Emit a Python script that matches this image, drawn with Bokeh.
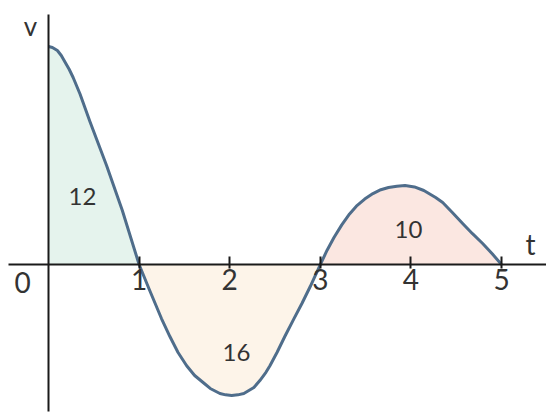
import numpy as np
from bokeh.plotting import figure
from bokeh.models import Range1d, FixedTicker, Label
from bokeh.embed import file_html
from bokeh.resources import INLINE

# Curve (t, v)
t_vals = [0.0, 0.043, 0.098, 0.141, 0.185, 0.228, 0.272, 0.348, 0.457, 0.641, 0.815, 1.0,
          1.108, 1.247, 1.340, 1.430, 1.525, 1.613, 1.720, 1.785, 1.892, 1.955, 2.022,
          2.090, 2.156, 2.267, 2.333, 2.400, 2.444, 2.522, 2.611, 2.711, 2.800, 2.889, 3.0,
          3.075, 3.151, 3.237, 3.323, 3.398, 3.490, 3.581, 3.668, 3.753, 3.845, 3.935,
          4.039, 4.143, 4.273, 4.351, 4.460, 4.571, 4.680, 4.792, 4.900, 5.0]
v_vals = [19.82, 19.73, 19.45, 19.0, 18.36, 17.75, 17.0, 15.5, 13.0, 9.0, 4.91, 0.0,
          -2.18, -4.91, -6.55, -8.0, -9.2, -10.09, -10.82, -11.27, -11.73, -11.85, -11.91,
          -11.85, -11.73, -11.18, -10.55, -9.8, -9.2, -8.0, -6.5, -4.9, -3.5, -2.0, 0.0,
          1.3, 2.45, 3.6, 4.6, 5.3, 5.95, 6.45, 6.8, 7.0, 7.12, 7.18,
          7.05, 6.73, 6.09, 5.64, 4.7, 3.73, 2.8, 1.91, 0.95, 0.0]

segment_bounds = [0, 1, 3, 5]
segment_colors = ["#e5f3ed", "#fdf4e9", "#fbe7e1"]
area_values = [12, 16, 10]
area_label_pos = [(0.375, 6.2), (2.075, -8.0), (3.974, 3.2)]

x_ticks = [1, 2, 3, 4, 5]

FONT = "Lato"
TXT = "#333333"

p = figure(width=546, height=414,
           x_range=Range1d(-0.5298, 5.4967), y_range=Range1d(-13.636, 24.0),
           output_backend="svg", toolbar_location=None, min_border=0)
p.grid.visible = False
p.outline_line_color = None
p.background_fill_color = "white"

t_arr = np.array(t_vals)
v_arr = np.array(v_vals)
for i in range(3):
    a, b = segment_bounds[i], segment_bounds[i + 1]
    m = (t_arr >= a) & (t_arr <= b)
    p.varea(x=t_arr[m], y1=np.zeros(m.sum()), y2=v_arr[m],
            fill_color=segment_colors[i])

p.line(t_vals, v_vals, line_width=3, line_color="#4f6d8b", line_join="round")

# axes crossing at origin
p.xaxis.fixed_location = 0
p.yaxis.fixed_location = 0
p.xaxis.ticker = FixedTicker(ticks=x_ticks)
p.yaxis.ticker = FixedTicker(ticks=[])
p.xaxis.bounds = (-0.4415, 5.4967)
p.yaxis.bounds = (-13.4, 22.73)
for ax in (p.xaxis[0], p.yaxis[0]):
    ax.axis_line_width = 2
    ax.axis_line_color = "#1a1a1a"
    ax.major_tick_line_color = "#1a1a1a"
    ax.major_tick_line_width = 2
    ax.minor_tick_line_color = None
    ax.major_label_text_font = FONT
    ax.major_label_text_color = TXT
    ax.major_label_text_font_size = "28px"
p.xaxis.major_tick_in = 8
p.xaxis.major_tick_out = 4
p.xaxis.major_label_standoff = 0
p.yaxis.major_label_text_font_size = "0px"

for val, (tx, ty) in zip(area_values, area_label_pos):
    p.add_layout(Label(x=tx, y=ty, text=str(val), text_align="center",
                       text_baseline="middle", text_font=FONT,
                       text_font_size="24px", text_color=TXT))

p.add_layout(Label(x=-0.287, y=-1.64, text="0", text_align="center",
                   text_baseline="middle", text_font=FONT,
                   text_font_size="28px", text_color=TXT))
p.add_layout(Label(x=-0.199, y=21.7, text="v", text_align="center",
                   text_baseline="middle", text_font=FONT,
                   text_font_size="26px", text_color=TXT))
p.add_layout(Label(x=5.32, y=1.9, text="t", text_align="center",
                   text_baseline="middle", text_font=FONT,
                   text_font_size="28px", text_color=TXT))

open("out.html", "w").write(file_html(p, INLINE))
